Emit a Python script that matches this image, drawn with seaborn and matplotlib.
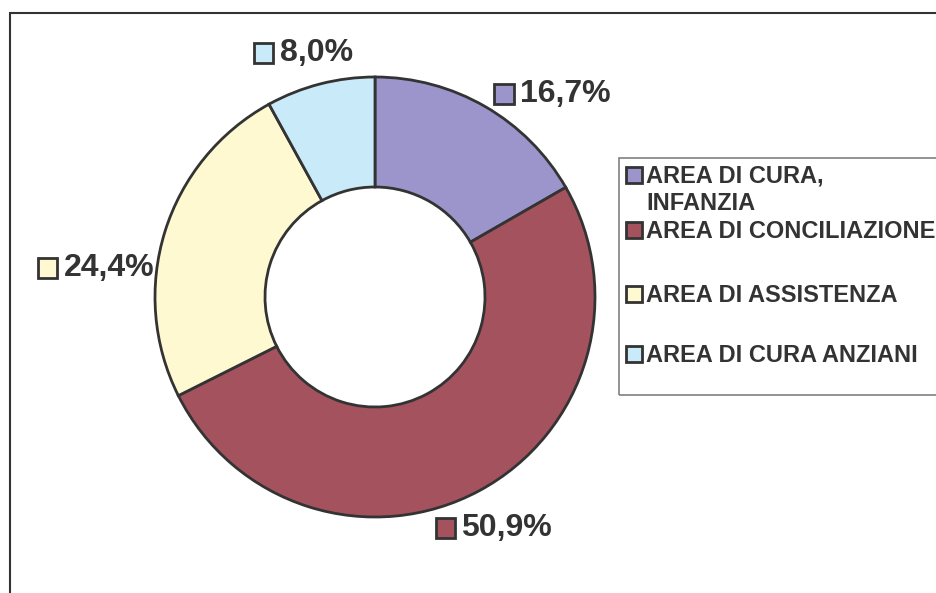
import matplotlib
matplotlib.use("Agg")
import matplotlib.pyplot as plt
import seaborn as sns
from matplotlib.patches import Rectangle
from matplotlib.offsetbox import AnnotationBbox, DrawingArea, HPacker, TextArea

# data
categories = ["AREA DI CURA,\nINFANZIA", "AREA DI CONCILIAZIONE",
              "AREA DI ASSISTENZA", "AREA DI CURA ANZIANI"]
values = [16.7, 50.9, 24.4, 8.0]
pct_labels = ["16,7%", "50,9%", "24,4%", "8,0%"]

# style
colors = ["#9B95CB", "#A5525F", "#FFF9D2", "#C9EAF8"]
edge = "#333333"
text_color = "#333333"
# label anchors (left edge of box, vertical centre) in pie units
label_pos = [(0.54, 0.922), (0.272, -1.05), (-1.535, 0.131), (-0.553, 1.109)]
legend_y = [183, 238, 302, 362]  # baseline of first line, pixels from top

sns.set_theme(style="white")
plt.rcParams['font.family'] = ['Liberation Sans', 'DejaVu Sans']

W, H = 936, 593
fig = plt.figure(figsize=(W / 100, H / 100), dpi=100)

# outer frame (left and top lines visible)
fig.add_artist(Rectangle((10 / W, -0.1), 1.2, 1.1 - 13 / H,
                         transform=fig.transFigure, fill=False,
                         edgecolor=edge, linewidth=1.5))

cx, cy, r = 375, 297, 220
ax = fig.add_axes([(cx - r) / W, (H - cy - r) / H, 2 * r / W, 2 * r / H])
ax.pie(values, colors=colors, startangle=90, counterclock=False,
       wedgeprops=dict(width=0.5, edgecolor=edge, linewidth=2))
ax.set_xlim(-1, 1)
ax.set_ylim(-1, 1)
ax.set_aspect('equal', adjustable='box')
ax.axis('off')

for lab, col, (x, y) in zip(pct_labels, colors, label_pos):
    da = DrawingArea(15, 15, 0, 0)
    da.add_artist(Rectangle((0.5, 0.5), 14, 14, facecolor=col,
                            edgecolor=edge, linewidth=2))
    ta = TextArea(lab, textprops=dict(fontsize=23, fontweight='bold',
                                      color=text_color))
    box = HPacker(children=[da, ta], align="center", pad=0, sep=4)
    ab = AnnotationBbox(box, (x, y), xycoords='data', box_alignment=(0, 0.5),
                        frameon=False, pad=0, annotation_clip=False)
    ax.add_artist(ab)

# legend
fig.add_artist(Rectangle((619 / W, 1 - 395 / H), 0.5, (395 - 158) / H,
                         transform=fig.transFigure, fill=False,
                         edgecolor="#808080", linewidth=1.2))
for lab, col, yb in zip(categories, colors, legend_y):
    fig.add_artist(Rectangle((626 / W, 1 - yb / H), 16 / W, 16 / H,
                             transform=fig.transFigure, facecolor=col,
                             edgecolor=edge, linewidth=2))
    for i, line in enumerate(lab.split("\n")):
        fig.text(646 / W, 1 - (yb + i * 27) / H, line, fontsize=17,
                 fontweight='bold', color=text_color, va='baseline', ha='left')

fig.savefig("out.png", dpi=100, facecolor='white')
